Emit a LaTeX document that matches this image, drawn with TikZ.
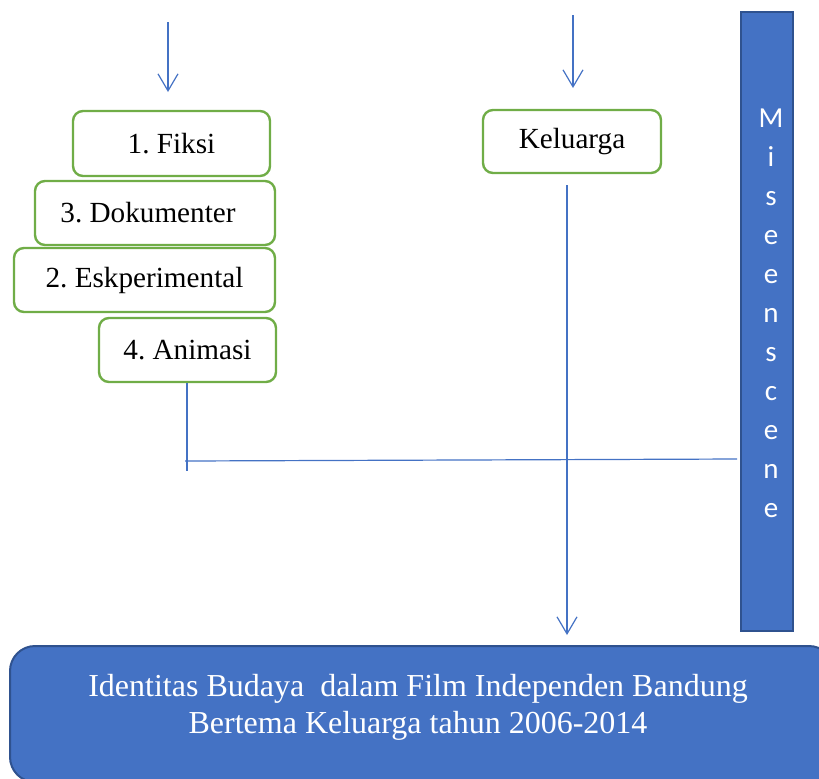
\documentclass[tikz,border=0pt]{standalone}
\usepackage{fontspec}
\setmainfont{Liberation Serif}
\newfontfamily\calibrifont{Carlito}
\usetikzlibrary{arrows.meta,positioning}
\definecolor{genreGreen}{HTML}{70AD47}
\definecolor{flowBlue}{HTML}{4472C4}
\definecolor{edgeBlue}{HTML}{2F528F}
\tikzset{
	genre/.style={draw=genreGreen, line width=1.2pt, rounded corners=5pt, fill=white,
		inner sep=0pt, font=\frenchspacing\fontsize{14.6}{17}\selectfont},
	flow/.style={draw=flowBlue, line width=0.6pt},
	flowarr/.style={flow, -{Straight Barb[length=8.5pt,width=10pt]}},
}
\begin{document}
\begin{tikzpicture}[x=0.5pt, y=-0.5pt]
	\clip (0,0) rectangle (819,778);
	\useasboundingbox (0,0) rectangle (819,778);
	% genre boxes
	\node[genre, minimum width=98.5pt, minimum height=32.5pt] (fiksi) at (171.5,143.5) {1. Fiksi};
	\node[genre, minimum width=120pt, minimum height=32pt] (doku) at (155,213) {3. Dokumenter\kern7pt};
	\node[genre, minimum width=130.5pt, minimum height=32pt] (eksp) at (144.5,280) {2. Eskperimental};
	\node[genre, minimum width=88.5pt, minimum height=32pt] (anim) at (187.5,350) {4. Animasi};
	\node[genre, minimum width=89pt, minimum height=31.5pt] (kel) at (572,141.5) {Keluarga};
	% mise en scene bar
	\node[draw=edgeBlue, fill=flowBlue, line width=1pt, minimum width=26pt, minimum height=309.5pt,
		inner sep=0pt] (mise) at (767,321.5) {};
	\node[text=white, align=center, font=\calibrifont\fontsize{14.5}{19.5}\selectfont] (misetext) at (771,313)
		{M\\i\\s\\e\\e\\n\\s\\c\\e\\n\\e};
	% result box
	\node[draw=edgeBlue, fill=flowBlue, line width=1pt, rounded corners=12.5pt, minimum width=412pt,
		minimum height=68pt, inner sep=0pt] (hasil) at (422,714) {};
	\node[text=white, align=center, font=\frenchspacing\fontsize{16}{18.5}\selectfont] (hasiltext) at (418,707)
		{Identitas Budaya\ \ dalam Film Independen Bandung\\Bertema Keluarga tahun 2006-2014};
	% incoming arrows
	\coordinate (inA) at (168,22);
	\coordinate (inAend) at (168,92);
	\coordinate (inB) at (573,15);
	\coordinate (inBend) at (573,88);
	\draw[flowarr] (inA) -- (inAend);
	\draw[flowarr] (inB) -- (inBend);
	% connectors
	\coordinate (animend) at (187,471);
	\coordinate (crossL) at (185,461);
	\coordinate (crossR) at (737,459);
	\coordinate (kelstart) at (567,185);
	\coordinate (kelend) at (567,635);
	\draw[flow] (anim.south -| animend) -- (animend);
	\draw[flow] (crossL) -- (crossR);
	\draw[flowarr] (kelstart) -- (kelend);
\end{tikzpicture}
\end{document}
